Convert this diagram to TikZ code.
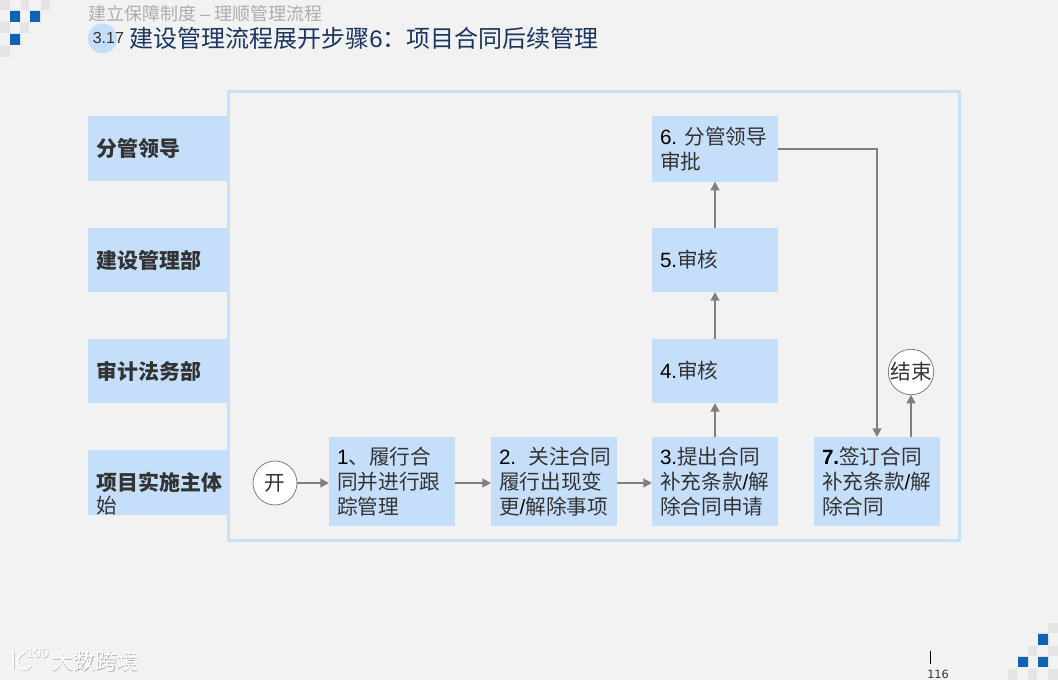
\documentclass[tikz,border=0pt]{standalone}
\usepackage{fontspec}
\setmainfont{Noto Sans CJK SC}
\newfontfamily\latf{Liberation Sans}
\newfontfamily\pagef{DejaVu Sans}
\newcommand{\lat}[1]{{\latf\color{black} #1}}
\usetikzlibrary{arrows.meta}
\definecolor{bgc}{HTML}{F2F2F2}
\definecolor{boxc}{HTML}{C5DFFB}
\definecolor{framec}{HTML}{C9E0FA}
\definecolor{linec}{HTML}{7F7F7F}
\definecolor{navy}{HTML}{1A3560}
\definecolor{bluec}{HTML}{0F62B4}
\definecolor{txtc}{HTML}{333333}
\definecolor{grayA}{HTML}{E4E4E4}
\tikzset{
  px/.style={x=0.75pt,y=-0.75pt},
  flowbox/.style={fill=boxc,draw=none,outer sep=0pt,inner xsep=6pt,inner ysep=0pt,minimum width=94.5pt,text width=82.5pt,align=left,anchor=north west,font=\fontsize{15.5pt}{18.75pt}\selectfont,text=txtc},
  lanebox/.style={fill=boxc,draw=none,outer sep=0pt,inner xsep=6.5pt,inner ysep=0pt,minimum width=105pt,text width=92pt,align=left,anchor=north west,font=\fontsize{15.7pt}{18.75pt}\selectfont\bfseries,text=txtc},
  circ/.style={circle,draw=linec,line width=0.6pt,fill=white,outer sep=0pt,minimum size=33pt,inner sep=0pt,font=\fontsize{15.5pt}{18pt}\selectfont,text=txtc},
  conn/.style={draw=linec,line width=1.5pt,-{Triangle[length=6.5pt,width=6.5pt]}},
  blue/.style={fill=bluec,draw=none},
  pale/.style={fill=grayA,draw=none},
  plain/.style={inner sep=0pt,anchor=base west}
}
\begin{document}
\begin{tikzpicture}[px]
\useasboundingbox (0,0) rectangle (1058,680);
\fill[bgc] (0,0) rectangle (1058,680);
% corner decoration top left
\fill[blue] (10,11) rectangle (20,22) (30,11) rectangle (40,22) (10,34) rectangle (20,45);
\fill[pale] (0,22) rectangle (10,33) (20,22) rectangle (29,33) (0,46) rectangle (10,57) (21,0) rectangle (29,10) (41,0) rectangle (50,10) (0,0) rectangle (10,10);
% corner decoration bottom right
\fill[blue] (1038,634) rectangle (1048,645) (1018,657) rectangle (1028,667) (1038,657) rectangle (1048,667);
\fill[pale] (1048,623) rectangle (1058,633) (1028,646) rectangle (1037,656) (1048,646) rectangle (1058,656) (1008,669) rectangle (1017,680) (1028,669) rectangle (1037,680) (1048,669) rectangle (1058,680);
% titles
\node[plain,text=black!32,font=\fontsize{13.5pt}{16pt}\selectfont] (sub) at (88,21) {建立保障制度 {\latf –} 理顺管理流程};
\fill[boxc] (102.5,38.5) ellipse [x radius=14.5,y radius=15];
\node[plain,text=txtc,font=\fontsize{12pt}{14pt}\latf] (num) at (92.5,44) {3.17};
\node[plain,text=navy,font=\fontsize{18pt}{22pt}\selectfont] (title) at (129,47.5) {建设管理流程展开步骤{\latf 6}：项目合同后续管理};
% frame
\draw[framec,line width=2pt] (228.3,91.5) rectangle (959.5,540.3);
% lanes
\node[lanebox,minimum height=48.75pt] (l1) at (88,116) {分管领导};
\node[lanebox,minimum height=48pt] (l2) at (88,228) {建设管理部};
\node[lanebox,minimum height=48pt] (l3) at (88,339) {审计法务部};
\node[lanebox,minimum height=48.75pt] (l4) at (88,450) {项目实施主体};
\node[plain,text=txtc,font=\fontsize{15.5pt}{18pt}\selectfont] (l4b) at (96,514) {始};
% steps
\node[flowbox,minimum height=48.75pt] (s6) at (652,116.6) {\mbox{\lat{6.}\hspace{0.35em}分管领导}\\审批};
\fill[boxc] (652,116) rectangle (778,118);
\node[flowbox,minimum height=48pt] (s5) at (652,228) {\lat{5.}审核};
\node[flowbox,minimum height=48pt] (s4) at (652,339) {\lat{4.}审核};
\node[flowbox,minimum height=66.75pt] (s3) at (652,437) {\lat{3.}提出合同\\补充条款\lat{/}解\\除合同申请};
\node[flowbox,minimum height=66.75pt] (s1) at (329,437) {\lat{1}、履行合\\同并进行跟\\踪管理};
\node[flowbox,minimum height=66.75pt] (s2) at (491,437) {\mbox{\lat{2.}\hspace{0.6em}关注合同}\\履行出现变\\更\lat{/}解除事项};
\node[flowbox,minimum height=66.75pt] (s7) at (814,437) {{\latf\bfseries\color{black} 7.}签订合同\\补充条款\lat{/}解\\除合同};
\node[circ] (start) at (275,483) {开};
\node[circ] (end) at (911,372) {结束};
% connectors
\draw[conn] (start) -- (start -| s1.west);
\draw[conn] (start -| s1.east) -- (start -| s2.west);
\draw[conn] (start -| s2.east) -- (start -| s3.west);
\draw[conn] (s3) -- (s4);
\draw[conn] (s4) -- (s5);
\draw[conn] (s5) -- (s6);
\draw[conn] (s6.east) -| (s7.north);
\draw[conn] (s7.north -| end) -- (end);
% page number
\coordinate (pa) at (930,651);
\coordinate (pb) at (930,664);
\draw[black,line width=0.75pt] (pa) -- (pb);
\node[plain,text=txtc,font=\fontsize{8.5pt}{10pt}\pagef] (page) at (927,679) {116};
% watermark
\begin{scope}[shift={(0.7,0.7)}]
\draw[black!22,line width=1.7pt,line cap=round] (13,652) -- (13,668);
\draw[black!22,line width=1.7pt,line cap=round] (25,652) .. controls (17,655) and (15,664) .. (20,668) .. controls (24,670) and (28,669) .. (30,666);
\node[plain,text=black!22,font=\fontsize{10pt}{11pt}\latf] (logos) at (26,658) {100};
\end{scope}
\draw[white,line width=1.7pt,line cap=round] (13,652) -- (13,668);
\draw[white,line width=1.7pt,line cap=round] (25,652) .. controls (17,655) and (15,664) .. (20,668) .. controls (24,670) and (28,669) .. (30,666);
\node[plain,text=white,font=\fontsize{10pt}{11pt}\latf] (logo) at (26,658) {100};
\node[plain,text=black!30,font=\fontsize{16.2pt}{18pt}\selectfont] (wms) at (52.7,670.7) {大数跨境};
\node[plain,text=white,font=\fontsize{16.2pt}{18pt}\selectfont] (wm) at (52,670) {大数跨境};
\end{tikzpicture}
\end{document}
